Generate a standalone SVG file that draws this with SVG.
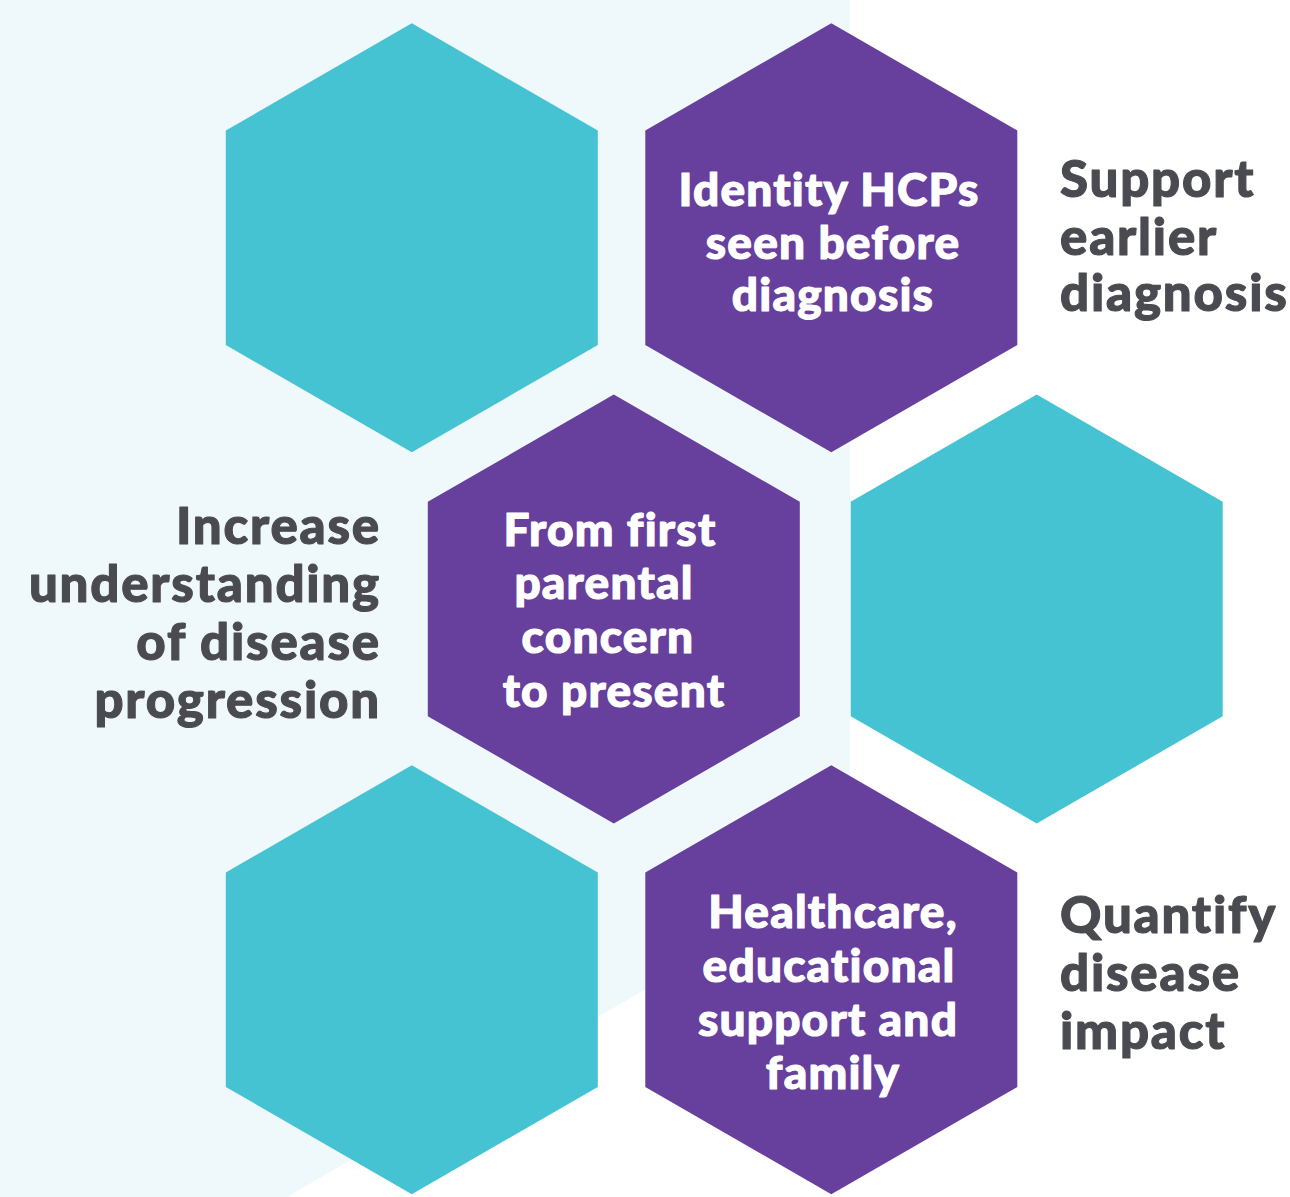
<svg xmlns="http://www.w3.org/2000/svg" width="1290" height="1197" viewBox="0 0 1290 1197">
<defs>
<style>
.teal{fill:#45c3d2}
.purple{fill:#673f9c}
text{font-family:Lato,"Liberation Sans",sans-serif;font-weight:900;font-variant-ligatures:none;font-feature-settings:"liga" 0;stroke-width:1.1px;stroke-linejoin:round}
.in{font-size:46px;letter-spacing:1.2px;fill:#ffffff;stroke:#ffffff;text-anchor:middle}
.out{font-size:51px;letter-spacing:1.8px;fill:#4a4b50;stroke:#4a4b50}
</style>
<path id="hex" d="M0,-214.5 L186,-107.2 L186,107.2 L0,214.5 L-186,107.2 L-186,-107.2 Z"/>
</defs>
<rect x="0" y="0" width="1290" height="1197" fill="#ffffff"/>
<polygon points="0,0 850,0 850,871 287,1197 0,1197" fill="#eff8fa"/>
<g id="connectors"></g>
<g id="hex-tl"><use href="#hex" class="teal" transform="translate(411.8,237.8)"/></g>
<g id="hex-tr"><use href="#hex" class="purple" transform="translate(831.3,237.8)"/>
<text class="in" x="829" y="206">Identity HCPs</text>
<text class="in" x="833" y="259">seen before</text>
<text class="in" x="833" y="311">diagnosis</text>
</g>
<g id="hex-ml"><use href="#hex" class="purple" transform="translate(613.8,609)"/>
<text class="in" x="610" y="546">From first</text>
<text class="in" x="604" y="599">parental</text>
<text class="in" x="608" y="653">concern</text>
<text class="in" x="614" y="707">to present</text>
</g>
<g id="hex-mr"><use href="#hex" class="teal" transform="translate(1036.7,609)"/></g>
<g id="hex-bl"><use href="#hex" class="teal" transform="translate(411.8,979.7)"/></g>
<g id="hex-br"><use href="#hex" class="purple" transform="translate(831.3,979.7)"/>
<text class="in" x="833" y="928">Healthcare,</text>
<text class="in" x="829" y="982">educational</text>
<text class="in" x="828" y="1036">support and</text>
<text class="in" x="833" y="1089">family</text>
</g>
<g id="label-support">
<text class="out" x="1060" y="197">Support</text>
<text class="out" x="1060" y="255">earlier</text>
<text class="out" x="1060" y="311">diagnosis</text>
</g>
<g id="label-increase">
<text class="out" x="381" y="544" text-anchor="end">Increase</text>
<text class="out" x="381" y="602" text-anchor="end">understanding</text>
<text class="out" x="381" y="660" text-anchor="end">of disease</text>
<text class="out" x="381" y="718" text-anchor="end">progression</text>
</g>
<g id="label-quantify">
<text class="out" x="1060" y="933">Quantify</text>
<text class="out" x="1060" y="991">disease</text>
<text class="out" x="1060" y="1049">impact</text>
</g>
</svg>
